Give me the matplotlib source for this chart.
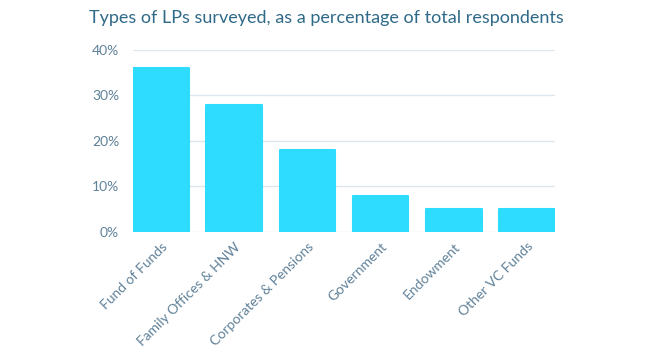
import matplotlib.pyplot as plt
from matplotlib.ticker import PercentFormatter

categories = ['Fund of Funds', 'Family Offices & HNW', 'Corporates & Pensions',
              'Government', 'Endowment', 'Other VC Funds']
values = [36, 28, 18, 8, 5, 5]
yticks = [0, 10, 20, 30, 40]

plt.rcParams['font.family'] = ['Lato', 'DejaVu Sans']

fig = plt.figure(figsize=(6.52, 3.64), dpi=100)
ax = fig.add_axes([133 / 652, 1 - 232 / 364, 422 / 652, 182 / 364])

x = range(len(categories))
ax.bar(x, values, width=0.76, color='#2EDCFF', edgecolor='#2EDCFF',
       linewidth=1.5, joinstyle='round', zorder=3)

ax.set_xlim(-0.38, len(categories) - 0.62)
ax.set_ylim(0, 40)
ax.set_yticks(yticks)
ax.yaxis.set_major_formatter(PercentFormatter(decimals=0))
ax.grid(axis='y', color='#DCE6EE', linewidth=1, zorder=0)
ax.set_axisbelow(True)
for s in ax.spines.values():
    s.set_visible(False)
ax.tick_params(axis='both', length=0, colors='#5F8199', labelsize=10)
ax.tick_params(axis='y', pad=10)
ax.set_xticks(list(x))
ax.set_xticklabels(categories, rotation=45, ha='right', rotation_mode='anchor')
ax.tick_params(axis='x', pad=6)

fig.text(0.5, 1 - 18 / 364, 'Types of LPs surveyed, as a percentage of total respondents',
         ha='center', va='center', fontsize=13, color='#2F6A88')

fig.savefig('out.png', dpi=100, facecolor='white')
